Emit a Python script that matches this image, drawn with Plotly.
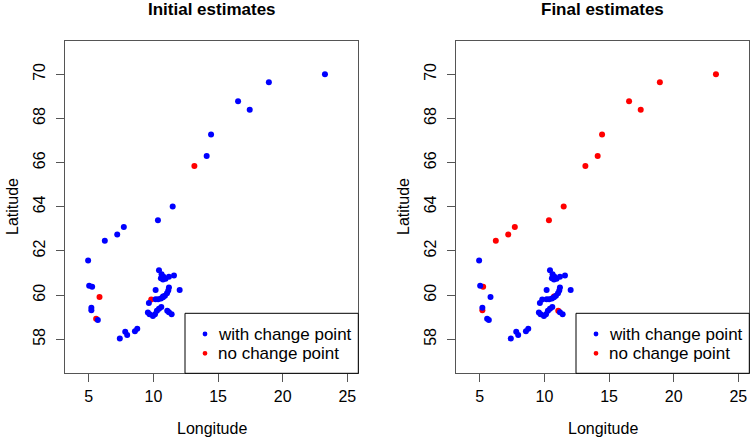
import plotly.graph_objects as go
from plotly.subplots import make_subplots

# Station coordinates
lon = [23.27, 18.93, 16.55, 17.45, 14.46, 14.12, 13.17, 11.49, 10.35, 7.71,
       7.20, 6.24, 4.95, 5.03, 5.26, 5.83, 5.20, 5.20, 5.57, 5.70,
       7.40, 7.82, 7.97, 8.57, 8.75, 10.43, 10.63, 10.76, 10.58, 10.74,
       10.94, 11.20, 11.59, 10.17, 12.03, 11.20, 11.15, 11.05, 10.89, 10.74,
       10.58, 10.37, 10.17, 9.83, 9.65, 10.61, 10.43, 10.27, 10.12, 9.96,
       9.70, 9.57, 11.07, 11.20, 11.41, 10.74]
lat = [70.00, 69.64, 68.78, 68.40, 67.27, 66.30, 65.85, 64.01, 63.39, 63.09,
       62.75, 62.46, 61.57, 60.42, 60.38, 59.91, 59.43, 59.32, 58.93, 58.87,
       58.04, 58.34, 58.19, 58.37, 58.48, 61.13, 60.95, 60.84, 60.77, 60.71,
       60.74, 60.83, 60.89, 60.23, 60.23, 60.35, 60.21, 60.09, 59.97, 59.90,
       59.85, 59.81, 59.81, 59.80, 59.64, 59.46, 59.38, 59.29, 59.14, 59.05,
       59.14, 59.21, 59.29, 59.23, 59.14, 59.94]

# 1 = with change point, 0 = no change point
cp_initial = [1, 1, 1, 1, 1, 1, 0, 1, 1, 1,
              1, 1, 1, 1, 1, 0, 1, 1, 0, 1,
              1, 1, 1, 1, 1, 1, 1, 1, 1, 1,
              1, 1, 1, 1, 1, 1, 1, 1, 1, 1,
              1, 1, 1, 0, 1, 1, 1, 1, 1, 1,
              1, 1, 1, 1, 1, 1]
cp_final = [0, 0, 0, 0, 0, 0, 0, 0, 0, 0,
            0, 0, 1, 1, 0, 1, 1, 0, 1, 1,
            1, 1, 1, 1, 1, 1, 1, 1, 1, 1,
            1, 1, 1, 1, 1, 1, 1, 1, 1, 1,
            1, 1, 1, 1, 1, 1, 1, 1, 1, 1,
            1, 1, 0, 1, 1, 0]

panel_titles = ["Initial estimates", "Final estimates"]
legend_labels = ["with change point", "no change point"]
legend_colors = ["#0000ff", "#ff0000"]
x_ticks = [5, 10, 15, 20, 25]
y_ticks = [58, 60, 62, 64, 66, 68, 70]

W, H = 751, 439
FONT = "Liberation Sans, Arial, sans-serif"


def px(v):
    return v / W


def py(v):
    return 1 - v / H


fig = make_subplots(rows=1, cols=2)

for i, flags in enumerate([cp_initial, cp_final]):
    col = i + 1
    # red first so the blue points sit on top
    fig.add_trace(go.Scatter(
        x=[x for x, f in zip(lon, flags) if f == 0],
        y=[y for y, f in zip(lat, flags) if f == 0],
        mode="markers", marker=dict(color="#ff0000", size=6),
        name="no change point",
    ), row=1, col=col)
    fig.add_trace(go.Scatter(
        x=[x for x, f in zip(lon, flags) if f == 1],
        y=[y for y, f in zip(lat, flags) if f == 1],
        mode="markers", marker=dict(color="#0000ff", size=6),
        name="with change point",
    ), row=1, col=col)

# panel boxes in window pixels
left_px = [65, 456]
pw = 293.3
top_px, bot_px = 41, 373.3

axis_style = dict(showgrid=False, zeroline=False, showline=True, mirror=True,
                  linecolor="#555555", linewidth=1, ticks="outside", ticklen=8,
                  tickcolor="#555555", tickfont=dict(size=16, color="black", family=FONT))

for i in range(2):
    L = left_px[i]
    fig.update_xaxes(domain=[px(L), px(L + pw)], range=[3.16, 25.85], tickvals=x_ticks,
                     ticklabelstandoff=0, row=1, col=i + 1, **axis_style)
    fig.update_yaxes(domain=[py(bot_px), py(top_px)], range=[56.46, 71.51],
                     tickvals=y_ticks, tickangle=-90, ticklabelstandoff=5,
                     row=1, col=i + 1, **axis_style)

    cx = px(L + pw / 2)
    fig.add_annotation(x=cx, y=py(10), xref="paper", yref="paper",
                       text="<b>" + panel_titles[i] + "</b>", showarrow=False,
                       font=dict(size=17, family=FONT, color="black"),
                       xanchor="center", yanchor="middle")
    fig.add_annotation(x=cx, y=py(428), xref="paper", yref="paper",
                       text="Longitude", showarrow=False,
                       font=dict(size=16, family=FONT, color="black"),
                       xanchor="center", yanchor="middle")
    fig.add_annotation(x=px(L - 53), y=py(207), xref="paper", yref="paper",
                       text="Latitude", showarrow=False, textangle=-90,
                       font=dict(size=16, family=FONT, color="black"),
                       xanchor="center", yanchor="middle")

    # legend box
    fig.add_shape(type="rect", xref="paper", yref="paper",
                  x0=px(L + 120), x1=px(L + pw), y0=py(bot_px), y1=py(313.3),
                  line=dict(color="black", width=1), fillcolor="white", layer="above")
    for k, (lab, c) in enumerate(zip(legend_labels, legend_colors)):
        ry = 334 + k * 19.3
        fig.add_shape(type="circle", xref="paper", yref="paper",
                      x0=px(L + 140 - 2.4), x1=px(L + 140 + 2.4),
                      y0=py(ry + 2.4), y1=py(ry - 2.4),
                      line=dict(width=0), fillcolor=c, layer="above")
        fig.add_annotation(x=px(L + 151), y=py(ry), xref="paper", yref="paper",
                           text=lab, showarrow=False,
                           font=dict(size=17, family=FONT, color="black"),
                           xanchor="left", yanchor="middle")

fig.update_layout(
    width=W, height=H, autosize=False,
    margin=dict(l=0, r=0, t=0, b=0),
    plot_bgcolor="white", paper_bgcolor="white",
    showlegend=False,
)

# drop the default 8px page margin so the figure fills the window
fig.write_html("out.html", config={"displayModeBar": False},
               post_script="document.body.style.margin='0';")
